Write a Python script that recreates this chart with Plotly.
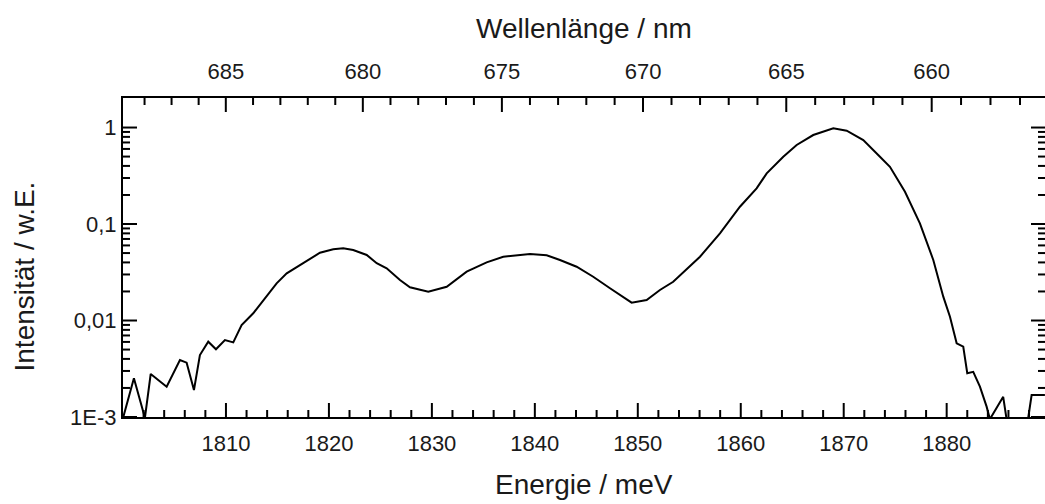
import plotly.graph_objects as go

# ---- data ----
energy_meV = [1800.03, 1801.06, 1802.13, 1802.69, 1804.24, 1805.53, 1806.18, 1806.89, 1807.47,
              1808.28, 1809.03, 1809.90, 1810.71, 1811.52, 1812.65, 1813.95, 1814.92, 1815.90,
              1817.19, 1818.16, 1819.13, 1820.42, 1821.39, 1822.36, 1823.67, 1824.64, 1825.61,
              1826.90, 1827.87, 1829.65, 1831.44, 1833.38, 1835.32, 1836.93, 1838.55, 1839.53,
              1841.15, 1842.44, 1844.06, 1845.67, 1847.30, 1849.40, 1850.86, 1852.15, 1853.44,
              1856.04, 1857.98, 1859.92, 1861.54, 1862.52, 1864.13, 1865.43, 1867.04, 1868.99,
              1870.29, 1871.90, 1873.35, 1874.49, 1875.95, 1877.40, 1878.70, 1879.67, 1880.32,
              1880.97, 1881.61, 1882.00, 1882.58, 1883.23, 1883.88, 1884.20, 1885.49, 1885.85,
              1886.92, 1887.92, 1888.25, 1889.54]
intensity = [0.00100, 0.00252, 0.00098, 0.00279, 0.00206, 0.00390, 0.00366, 0.00190, 0.00439,
             0.00603, 0.00503, 0.00628, 0.00594, 0.00898, 0.01188, 0.01766, 0.0243, 0.0308,
             0.0376, 0.0431, 0.0504, 0.0547, 0.0560, 0.0538, 0.0478, 0.0392, 0.0348,
             0.0263, 0.0221, 0.0199, 0.0224, 0.0321, 0.0401, 0.0458, 0.0478, 0.0489,
             0.0474, 0.0424, 0.0361, 0.0284, 0.0216, 0.0153, 0.0163, 0.0207, 0.0252,
             0.0458, 0.0801, 0.151, 0.234, 0.335, 0.498, 0.659, 0.836, 0.981,
             0.927, 0.742, 0.519, 0.392, 0.216, 0.1016, 0.0424, 0.01766, 0.01094,
             0.00580, 0.00535, 0.00284, 0.00294, 0.00206, 0.00128, 0.00095, 0.00162, 0.00090,
             0.00060, 0.00098, 0.00169, 0.00169]

energy_ticks = [1810, 1820, 1830, 1840, 1850, 1860, 1870, 1880]
energy_minor = [1802, 1804, 1806, 1808, 1812, 1814, 1816, 1818, 1822, 1824, 1826, 1828,
                1832, 1834, 1836, 1838, 1842, 1844, 1846, 1848, 1852, 1854, 1856, 1858,
                1862, 1864, 1866, 1868, 1872, 1874, 1876, 1878, 1882, 1884, 1886, 1888]
wavelength_major = [685, 680, 675, 670, 665, 660]
wavelength_minor = [688, 687, 686, 684, 683, 682, 681, 679, 678, 677, 676, 674, 673, 672, 671,
                    669, 668, 667, 666, 664, 663, 662, 661, 659, 658, 657]
y_major = [0.001, 0.01, 0.1, 1]
y_major_text = ["1E-3", "0,01", "0,1", "1"]
y_minor_mantissa = [2, 3, 4, 5, 6, 7, 8, 9]
y_minor_decades = [0.001, 0.01, 0.1]
HC = 1239.84  # eV*nm -> energy in meV = HC*1000/lambda

x_range = [1800.0, 1889.55]
y_log_range = [-3, 0.306]

FONT = "Liberation Sans, Arial, Helvetica, sans-serif"
TXT = "#1a1a1a"

W, H = 1045, 504
ML, MR, MT, MB = 123, 0, 98, 87
PW, PH = W - ML - MR, H - MT - MB   # plot area in px
MAJ, MIN = 14, 7                      # tick lengths in px
OUT = 4                               # ticks start a little outside the frame (clipped)


def to_meV(lam):
    return HC * 1000.0 / lam


y_minor = [m * d for d in y_minor_decades for m in y_minor_mantissa]
x_span = x_range[1] - x_range[0]
y_span = y_log_range[1] - y_log_range[0]


def vertical_ticks(vals, at_top, length):
    """inward tick segments at x positions vals, from bottom or top edge"""
    if at_top:
        y0 = 10 ** (y_log_range[1] + y_span * OUT / PH)
        y1 = 10 ** (y_log_range[1] - y_span * length / PH)
    else:
        y0 = 10 ** (y_log_range[0] - y_span * OUT / PH)
        y1 = 10 ** (y_log_range[0] + y_span * length / PH)
    xs, ys = [], []
    for v in vals:
        xs += [v, v, None]
        ys += [y0, y1, None]
    return xs, ys


def horizontal_ticks(vals, at_right, length):
    """inward tick segments at y positions vals, from left or right edge"""
    if at_right:
        x0 = x_range[1] + x_span * OUT / PW
        x1 = x_range[1] - x_span * length / PW
    else:
        x0 = x_range[0] - x_span * OUT / PW
        x1 = x_range[0] + x_span * length / PW
    xs, ys = [], []
    for v in vals:
        xs += [x0, x1, None]
        ys += [v, v, None]
    return xs, ys


fig = go.Figure()
fig.add_trace(go.Scatter(x=energy_meV, y=intensity, mode="lines",
                         line=dict(color="black", width=2), showlegend=False))

tick_style = dict(mode="lines", line=dict(color="black", width=2), showlegend=False,
                  hoverinfo="skip")
# bottom energy ticks
for vals, ln in ((energy_ticks, MAJ), (energy_minor, MIN)):
    xs, ys = vertical_ticks(vals, False, ln)
    fig.add_trace(go.Scatter(x=xs, y=ys, **tick_style))
# top wavelength ticks (on the wavelength axis)
for vals, ln in ((wavelength_major, MAJ), (wavelength_minor, MIN)):
    xs, ys = vertical_ticks([to_meV(l) for l in vals], True, ln)
    fig.add_trace(go.Scatter(x=xs, y=ys, xaxis="x2", **tick_style))
# left and right intensity ticks
for right in (False, True):
    for vals, ln in ((y_major, MAJ), (y_minor, MIN)):
        xs, ys = horizontal_ticks(vals, right, ln)
        fig.add_trace(go.Scatter(x=xs, y=ys, **tick_style))

axis_common = dict(ticks="", showgrid=False, zeroline=False, showline=True, linewidth=2,
                   linecolor="black", tickfont=dict(family=FONT, size=22, color=TXT))

fig.update_layout(
    template="none",
    width=W, height=H,
    margin=dict(l=ML, r=MR, t=MT, b=MB),
    paper_bgcolor="white", plot_bgcolor="white",
    font=dict(family=FONT, color=TXT),
    showlegend=False,
    xaxis=dict(range=x_range, tickmode="array", tickvals=energy_ticks,
               ticktext=[str(v) for v in energy_ticks], ticklabelstandoff=6, **axis_common),
    xaxis2=dict(range=x_range, overlaying="x", side="top", anchor="y", tickmode="array",
                tickvals=[to_meV(l) for l in wavelength_major],
                ticktext=[str(l) for l in wavelength_major], ticklabelstandoff=8,
                **axis_common),
    yaxis=dict(type="log", range=y_log_range, tickmode="array", tickvals=y_major,
               ticktext=y_major_text, mirror=True, **axis_common),
    annotations=[
        dict(text="Energie / meV", xref="paper", yref="paper", x=0.5, y=-0.213,
             xanchor="center", yanchor="middle", showarrow=False,
             font=dict(family=FONT, size=28, color=TXT)),
        dict(text="Wellenlänge / nm", xref="paper", yref="paper", x=0.5, y=1.219,
             xanchor="center", yanchor="middle", showarrow=False,
             font=dict(family=FONT, size=28, color=TXT)),
        dict(text="Intensität / w.E.", xref="paper", yref="paper", x=-0.1063, y=0.4404,
             xanchor="center", yanchor="middle", textangle=-90, showarrow=False,
             font=dict(family=FONT, size=28, color=TXT)),
    ],
)

fig.write_html("out.html")
